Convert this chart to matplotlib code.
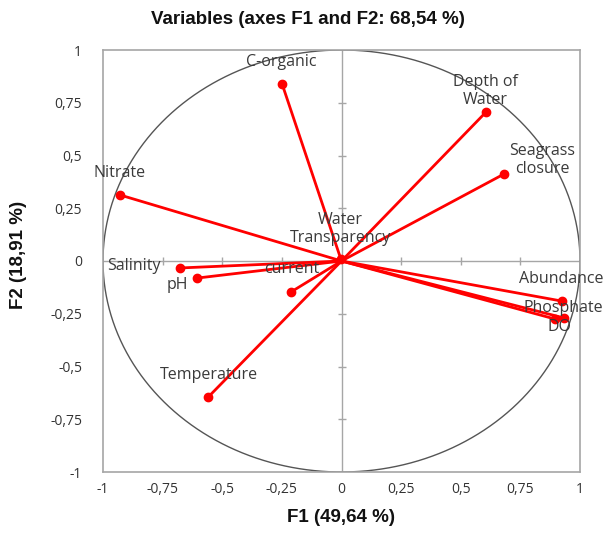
import numpy as np
import matplotlib
matplotlib.use("Agg")
import matplotlib.pyplot as plt

variables = ["C-organic", "Depth of\nWater", "Seagrass\nclosure", "Nitrate", "Water\nTransparency",
             "Salinity", "pH", "current", "Temperature", "Abundance", "Phosphate", "DO"]
f1 = [-0.249, 0.606, 0.681, -0.929, -0.003, -0.677, -0.606, -0.212, -0.559, 0.924, 0.933, 0.895]
f2 = [0.839, 0.706, 0.412, 0.313, 0.008, -0.033, -0.081, -0.147, -0.645, -0.190, -0.270, -0.275]
# label anchor positions in data units
label_pos = [(-0.254, 0.943), (0.602, 0.805), (0.841, 0.479), (-0.929, 0.417), (-0.006, 0.153),
             (-0.870, -0.024), (-0.690, -0.114), (-0.208, -0.038), (-0.556, -0.540),
             (0.920, -0.085), (0.929, -0.223), (0.916, -0.313)]
ticks = [-1, -0.75, -0.5, -0.25, 0, 0.25, 0.5, 0.75, 1]
tick_labels = ["-1", "-0,75", "-0,5", "-0,25", "0", "0,25", "0,5", "0,75", "1"]

plt.rcParams['font.family'] = ['Open Sans', 'DejaVu Sans']

W, H = 603, 546
fig = plt.figure(figsize=(W / 100, H / 100), dpi=100)
ax = fig.add_axes([103 / W, 1 - 472 / H, 477 / W, 422 / H])
ax.set_xlim(-1, 1)
ax.set_ylim(-1, 1)

grey = "#a6a6a6"
for s in ax.spines.values():
    s.set_color(grey)
    s.set_linewidth(1.2)

ax.axhline(0, color=grey, lw=1.0, zorder=1)
ax.axvline(0, color=grey, lw=1.0, zorder=1)
for t in ticks:
    if t not in (-1, 0, 1):
        ax.plot([t], [0], marker='|', ms=6, color=grey, mew=1.0, zorder=1)
        ax.plot([0], [t], marker='_', ms=6, color=grey, mew=1.0, zorder=1)

th = np.linspace(0, 2 * np.pi, 400)
ax.plot(np.cos(th), np.sin(th), color="#555555", lw=1.0, zorder=2)

for x, y in zip(f1, f2):
    ax.plot([0, x], [0, y], color="#ff0000", lw=2.0, zorder=3, solid_capstyle='round')
    ax.plot([x], [y], 'o', color="#ff0000", ms=6, zorder=4)

for name, (lx, ly) in zip(variables, label_pos):
    ax.text(lx, ly, name, ha='center', va='center', fontsize=11.5, color="#3a3a3a",
            linespacing=1.2, zorder=5)

ax.set_xticks(ticks)
ax.set_xticklabels(tick_labels)
ax.set_yticks(ticks)
ax.set_yticklabels(tick_labels)
ax.tick_params(axis='both', length=0, labelsize=10, labelcolor="#333333")
ax.tick_params(axis='x', pad=7)
ax.tick_params(axis='y', pad=15)

fig.text(308 / W, 1 - 19 / H, "Variables (axes F1 and F2: 68,54 %)", fontsize=13.5,
         fontweight='bold', family='Liberation Sans', ha='center', va='center', color="#111111")
fig.text(341 / W, 1 - 517 / H, "F1 (49,64 %)", fontsize=13.5, fontweight='bold',
         family='Liberation Sans', ha='center', va='center', color="#111111")
fig.text(19 / W, 1 - 255 / H, "F2 (18,91 %)", fontsize=13.5, fontweight='bold',
         family='Liberation Sans', ha='center', va='center', rotation=90, color="#111111")

fig.savefig("out.png", dpi=100)
